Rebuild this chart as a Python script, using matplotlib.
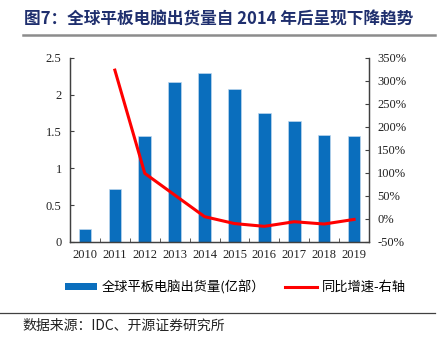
import matplotlib
matplotlib.use("Agg")
import matplotlib.pyplot as plt
from matplotlib.lines import Line2D
from matplotlib.patches import Patch
from matplotlib.ticker import FixedLocator, FuncFormatter
import numpy as np

CJK = ["Noto Sans CJK SC", "DejaVu Sans"]
SERIF = ["Liberation Serif", "DejaVu Serif"]

years = ["2010", "2011", "2012", "2013", "2014", "2015", "2016", "2017", "2018", "2019"]
shipments = [0.17, 0.72, 1.44, 2.17, 2.29, 2.07, 1.75, 1.64, 1.45, 1.44]   # 亿部
yoy_years = years[1:]
yoy_growth = [323, 99, 52, 5, -10, -16, -6, -11, -1]                        # %

BLUE = "#0A6EBD"
RED = "#FF0000"
AXIS = "#404040"

fig = plt.figure(figsize=(4.42, 3.37), dpi=100)
ax = fig.add_axes([0.1584, 0.2819, 0.6765, 0.5469])
ax2 = ax.twinx()

x = np.arange(len(years))
ax.bar(x, shipments, width=0.42, color=BLUE, edgecolor="#BDD7EE", linewidth=0.5, zorder=2)
xi = [years.index(y) for y in yoy_years]
ax2.plot(xi, yoy_growth, color=RED, lw=2.2, solid_joinstyle="round", zorder=3)

ax.set_xlim(-0.5, len(years) - 0.5)
ax.set_ylim(0, 2.5)
ax2.set_ylim(-50, 350)

ax.set_yticks(np.arange(0, 2.51, 0.5))
ax.yaxis.set_major_formatter(FuncFormatter(lambda v, p: f"{v:g}"))
ax2.set_yticks(np.arange(-50, 351, 50))
ax2.yaxis.set_major_formatter(FuncFormatter(lambda v, p: f"{v:.0f}%"))

ax.set_xticks(x, years)
ax.xaxis.set_minor_locator(FixedLocator(np.arange(-0.5, len(years), 1.0)))
ax.tick_params(axis="x", which="major", length=0, pad=5)
ax.tick_params(axis="x", which="minor", direction="in", length=3, color=AXIS)
ax.tick_params(axis="y", direction="in", length=3, color=AXIS, pad=6)
ax2.tick_params(axis="y", direction="in", length=3, color=AXIS, pad=6)

for a in (ax, ax2):
    for lbl in a.get_xticklabels() + a.get_yticklabels():
        lbl.set_family(SERIF)
        lbl.set_fontsize(9)
        lbl.set_color("#222222")
    a.spines["top"].set_visible(False)
    for s in ("left", "right", "bottom"):
        a.spines[s].set_color(AXIS)
        a.spines[s].set_linewidth(0.9)

# title and rules
fig.text(0.054, 0.943, "图7：全球平板电脑出货量自 2014 年后呈现下降趋势",
         family=CJK, fontsize=12, fontweight="bold", color="#1F2F6E",
         ha="left", va="center")
fig.add_artist(Line2D([0.052, 0.984], [0.896, 0.896], color="#8C8C8C", lw=1.8))
fig.add_artist(Line2D([0.0, 0.984], [0.071, 0.071], color="#404040", lw=0.9))
fig.text(0.05, 0.032, "数据来源：IDC、开源证券研究所", family=CJK, fontsize=10,
         color="#222222", ha="left", va="center")

handles = [Patch(facecolor=BLUE, edgecolor="none"),
           Line2D([0], [0], color=RED, lw=2.2)]
fig.legend(handles, ["全球平板电脑出货量(亿部）", "同比增速-右轴"],
           loc="center", bbox_to_anchor=(0.533, 0.148), ncol=2, frameon=False,
           prop={"family": CJK, "size": 9.5}, handlelength=2.4, handleheight=0.5,
           columnspacing=1.5, handletextpad=0.4)

fig.savefig("out.png", dpi=100)
